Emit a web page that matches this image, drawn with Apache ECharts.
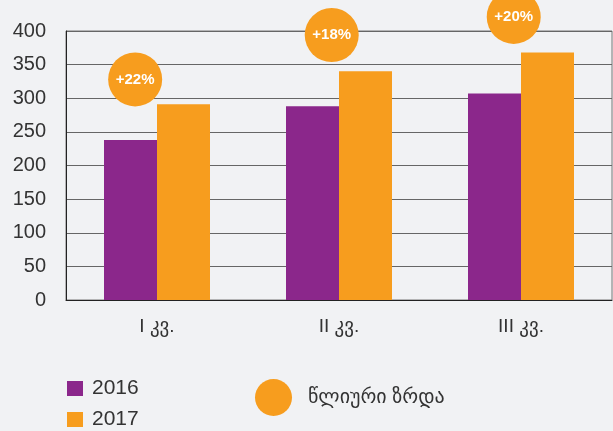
<!DOCTYPE html>
<html>
<head>
<meta charset="utf-8">
<script src="https://cdn.jsdelivr.net/npm/echarts@6/dist/echarts.min.js"></script>
<style>
  html, body { margin: 0; padding: 0; background: #f1f2f4; }
  #chart { width: 613px; height: 431px; }
</style>
</head>
<body>
<div id="chart"></div>
<script>
// quarters and values
var quarters = ["I კვ.", "II კვ.", "III კვ."];
var values2016 = [238, 288, 307];
var values2017 = [291, 340, 368];
var yTicks = [0, 50, 100, 150, 200, 250, 300, 350, 400];

// growth badges: position on a 0..3 quarter scale and height in axis units
var growthLabels = ["+22%", "+18%", "+20%"];
var growthX = [0.38, 1.46, 2.46];
var growthY = [328, 394, 421];

var PURPLE = "#8b278b";
var ORANGE = "#f79d1e";
var FONT = "'Liberation Sans', 'DejaVu Sans', sans-serif";

var growthData = [];
for (var i = 0; i < growthLabels.length; i++) {
    growthData.push({name: growthLabels[i], value: [growthX[i], growthY[i]]});
}

function yearLegend(name, top) {
    return {
        data: [name],
        left: 62,
        top: top,
        icon: "rect",
        itemWidth: 16,
        itemHeight: 15,
        textStyle: {fontSize: 21, color: "#333", fontFamily: FONT, padding: [0, 0, 0, 4]}
    };
}

var chart = echarts.init(document.getElementById("chart"));
var option = {
    backgroundColor: "#f1f2f4",
    animation: false,
    textStyle: {fontFamily: FONT},
    grid: {
        left: 66,
        right: 1,
        top: 31,
        bottom: 131,
        show: true,
        borderColor: "#777",
        borderWidth: 1,
        backgroundColor: "transparent"
    },
    legend: [
        yearLegend("2016", 373),
        yearLegend("2017", 404),
        {
            data: ["წლიური ზრდა"],
            left: 250,
            top: 374,
            icon: "circle",
            itemWidth: 37,
            itemHeight: 37,
            textStyle: {fontSize: 20, color: "#333", fontFamily: FONT, padding: [0, 0, 0, 11]}
        }
    ],
    xAxis: [
        {
            type: "category",
            data: quarters,
            axisLine: {lineStyle: {color: "#222", width: 1}},
            axisTick: {show: false},
            axisLabel: {fontSize: 19, color: "#333", margin: 17, fontFamily: FONT}
        },
        {
            type: "value",
            min: 0,
            max: 3,
            show: false
        }
    ],
    yAxis: {
        type: "value",
        min: yTicks[0],
        max: yTicks[yTicks.length - 1],
        interval: 50,
        axisLine: {show: true, lineStyle: {color: "#222", width: 1}},
        axisTick: {show: false},
        axisLabel: {fontSize: 20, color: "#333", margin: 20, fontFamily: FONT},
        splitLine: {lineStyle: {color: "#666", width: 1}}
    },
    series: [
        {
            name: "2016",
            type: "bar",
            data: values2016,
            barWidth: 53,
            barGap: "0%",
            itemStyle: {color: PURPLE}
        },
        {
            name: "2017",
            type: "bar",
            data: values2017,
            barWidth: 53,
            barGap: "0%",
            itemStyle: {color: ORANGE}
        },
        {
            name: "წლიური ზრდა",
            type: "scatter",
            xAxisIndex: 1,
            data: growthData,
            symbol: "circle",
            symbolSize: 54,
            clip: false,
            z: 5,
            itemStyle: {color: ORANGE, opacity: 1},
            label: {
                show: true,
                position: "inside",
                formatter: "{b}",
                color: "#fff",
                fontSize: 15,
                fontWeight: "bold",
                fontFamily: FONT
            }
        }
    ]
};
chart.setOption(option);
</script>
</body>
</html>
